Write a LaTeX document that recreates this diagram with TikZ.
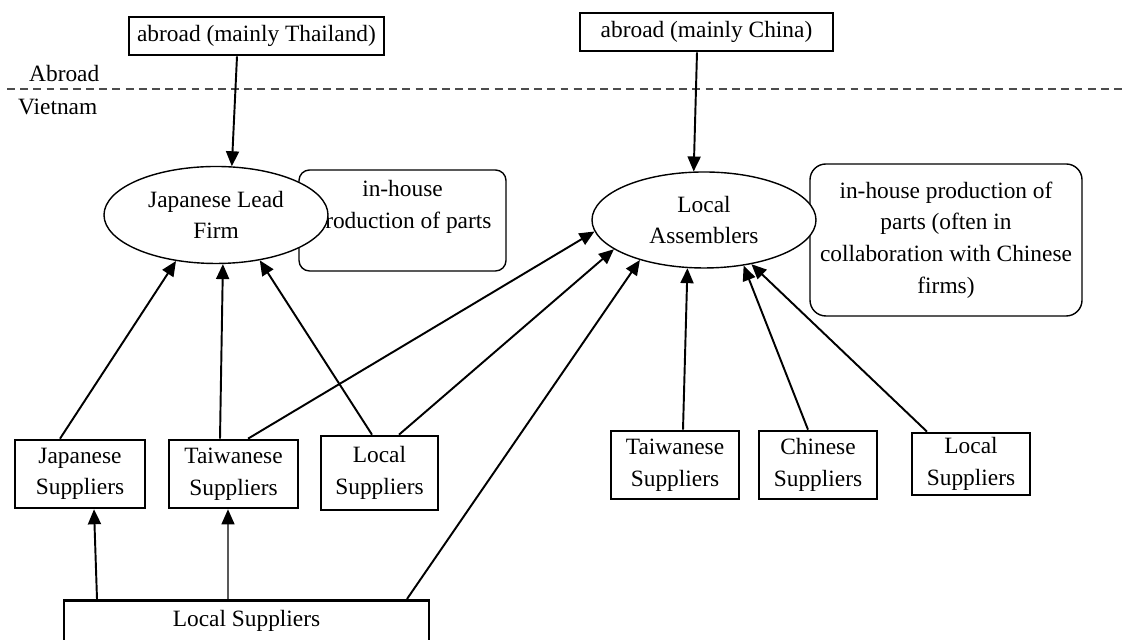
\documentclass[tikz,border=0pt]{standalone}
\usepackage{fontspec}
\setmainfont{Liberation Serif}
\usetikzlibrary{arrows.meta,shapes.geometric}

\begin{document}
\begin{tikzpicture}[
  x=1cm,
  y=1cm,
  font=\fontsize{13.3}{18}\selectfont,
  line/.style={draw=black,line width=1.1pt},
  arrow/.style={line,-{Triangle[length=3mm,width=2.6mm]}},
  box/.style={draw=black,line width=1.5pt,align=center,inner sep=1pt},
  firm/.style={ellipse,draw=black,line width=0.8pt,fill=white,align=center,inner sep=0pt,
               minimum width=4.48cm,minimum height=1.94cm},
  note/.style={draw=black,line width=0.8pt,rounded corners=6pt,align=center},
  frontier/.style={draw=black!70,line width=0.9pt,dash pattern=on 4.5pt off 3pt}
]
\useasboundingbox (0,0) rectangle (22.46,12.80);
\clip (0,0) rectangle (22.46,12.80);

% ---------------------------------------------------------------- abroad / Vietnam
\node[anchor=base west] (abroadlbl) at (0.46,11.16) {Abroad};
\node[anchor=base west] (vnlbl) at (0.24,10.50) {Vietnam};
\draw[frontier] (0.14,11.02) -- (22.46,11.02);

\node[box,minimum width=5.10cm,minimum height=0.76cm] (thai)  at (5.13,12.08) {abroad (mainly Thailand)};
\node[box,minimum width=5.06cm,minimum height=0.76cm] (china) at (14.13,12.16) {abroad (mainly China)};

% ---------------------------------------------------------------- lead firm and assemblers
% in-house notes first: the ellipses are filled over them
\node[note,minimum width=4.14cm,minimum height=2.02cm] (inhouseL) at (8.05,8.39)
  {in-house\\production of parts\\\mbox{}};
\node[note,rounded corners=9pt,minimum width=5.44cm,minimum height=3.04cm] (inhouseR) at (18.92,8.00)
  {in-house production of\\parts (often in\\collaboration with Chinese\\firms)};

\node[firm] (jlf) at (4.32,8.50) {Japanese Lead\\Firm};
\node[firm,minimum height=1.92cm] (la) at (14.08,8.40) {Local\\Assemblers};

% ---------------------------------------------------------------- suppliers
\node[box,minimum width=2.60cm,minimum height=1.36cm] (jsup)  at (1.60,3.32)  {Japanese\\Suppliers};
\node[box,minimum width=2.58cm,minimum height=1.36cm] (tsupL) at (4.67,3.32)  {Taiwanese\\Suppliers};
\node[box,minimum width=2.34cm,minimum height=1.48cm] (lsupL) at (7.59,3.34)  {Local\\Suppliers};
\node[box,minimum width=2.56cm,minimum height=1.36cm] (tsupR) at (13.50,3.50) {Taiwanese\\Suppliers};
\node[box,minimum width=2.36cm,minimum height=1.36cm] (csup)  at (16.36,3.50) {Chinese\\Suppliers};
\node[box,minimum width=2.36cm,minimum height=1.24cm] (lsupR) at (19.42,3.52) {Local\\Suppliers};

% second tier, runs off the bottom edge
\node[box,anchor=north,minimum width=7.30cm,inner ysep=0.2cm,text depth=1cm] (lsupB) at (4.93,0.82)
  {Local Suppliers};

% ---------------------------------------------------------------- connectors
\draw[arrow] ([xshift=-0.39cm]thai.south)  -- (jlf.72);
\draw[arrow] ([xshift=-0.19cm]china.south) -- (la.102);

% into the Japanese lead firm
\draw[arrow] ([xshift=-0.40cm]jsup.north)  -- (jlf.229);
\draw[arrow] ([xshift=-0.27cm]tsupL.north) -- (jlf.278);
\draw[arrow] ([xshift=-0.15cm]lsupL.north) -- (jlf.314);

% into the local assemblers
\draw[arrow] ([xshift=0.29cm]tsupL.north)  -- (la.186);
\draw[arrow] ([xshift=0.39cm]lsupL.north)  -- (la.198);
\draw[arrow] ([xshift=3.21cm]lsupB.north)  -- (la.212);
\draw[arrow] ([xshift=0.16cm]tsupR.north)  -- (la.251);
\draw[arrow] ([xshift=-0.20cm]csup.north)  -- (la.311);
\draw[arrow] ([xshift=-0.88cm]lsupR.north) -- (la.317);

% local suppliers feeding the first tier
\draw[arrow] ([xshift=-2.99cm]lsupB.north) -- ([xshift=0.28cm]jsup.south);
\draw[arrow,line width=0.7pt] ([xshift=-0.37cm]lsupB.north) -- ([xshift=-0.11cm]tsupL.south);

\end{tikzpicture}
\end{document}
